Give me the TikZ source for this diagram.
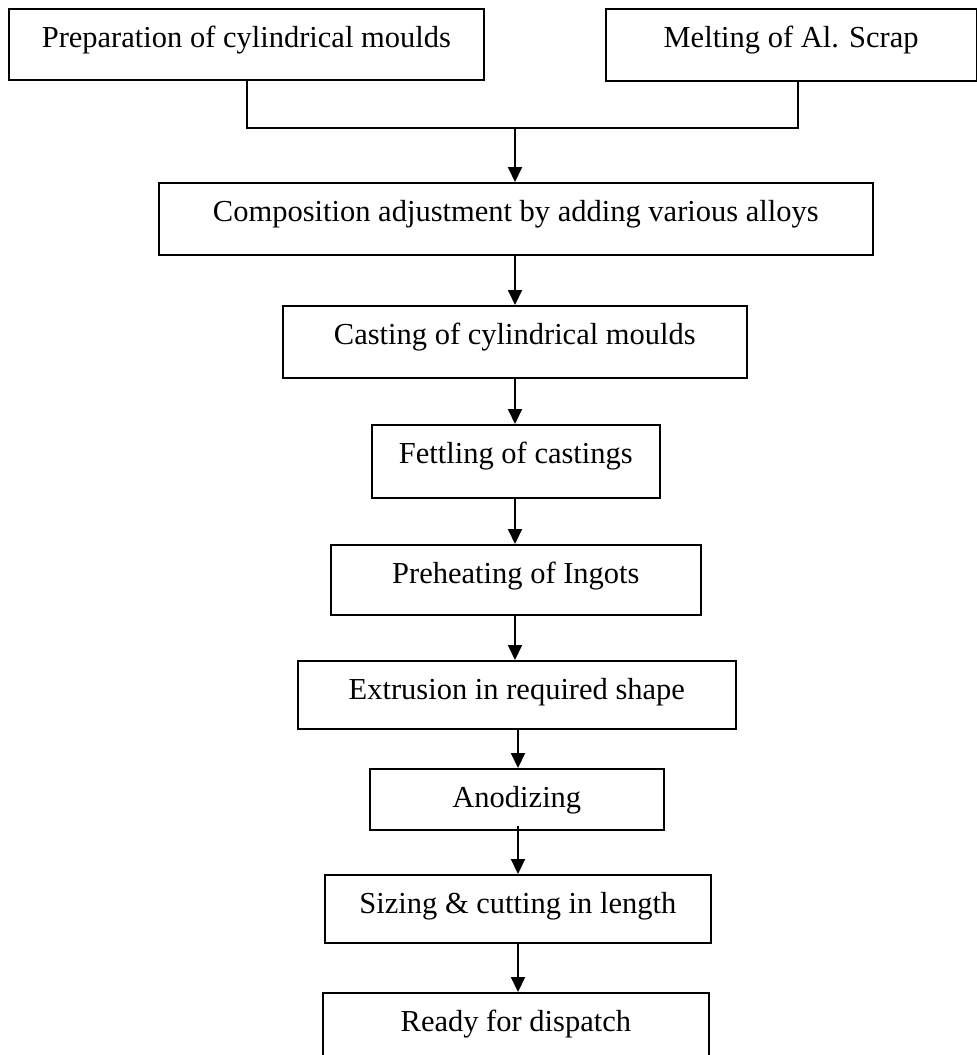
\documentclass[tikz,border=0pt]{standalone}
\usepackage{fontspec}
\setmainfont{Liberation Serif}
\usetikzlibrary{arrows.meta}
\tikzset{
  pbox/.style={draw, line width=1.7pt, inner sep=0pt, anchor=north west,
    text height=39pt, font=\fontsize{30.5}{36}\selectfont},
  link/.style={line width=1.7pt},
  arr/.style={line width=2pt, -{Triangle[width=14pt,length=15pt]}}
}
\begin{document}
\begin{tikzpicture}[x=1pt,y=-1pt]
\useasboundingbox (0,0) rectangle (977,1055);
\node[pbox, minimum width=475pt, text depth=32pt] (b1) at (8,8) {Preparation of cylindrical moulds};
\node[pbox, minimum width=370.5pt, text depth=33pt] (b2) at (605,8) {Melting of Al. Scrap};
\node[pbox, minimum width=714pt, text depth=33pt] (b3) at (158,182) {Composition adjustment by adding various alloys};
\node[pbox, minimum width=464pt, text depth=33pt] (b4) at (282,305) {Casting of cylindrical moulds};
\node[pbox, minimum width=288pt, text depth=34pt] (b5) at (371,424) {Fettling of castings};
\node[pbox, minimum width=370pt, text depth=31pt] (b6) at (330,544) {Preheating of Ingots};
\node[pbox, minimum width=438pt, text depth=29pt] (b7) at (297,660) {Extrusion in required shape};
\node[pbox, minimum width=294pt, text depth=22pt] (b8) at (369,768) {Anodizing};
\node[pbox, minimum width=386pt, text depth=29pt] (b9) at (324,874) {Sizing \& cutting in length};
\node[pbox, minimum width=386pt, text depth=44pt] (b10) at (322,992) {Ready for dispatch};
\coordinate (m1) at (247,128);
\coordinate (m2) at (798,128);
\coordinate (j) at (515,128);
\draw[link] (b1.south -| m1) -- (m1) -- (m2) -- (b2.south -| m2);
\draw[arr] (j) -- (j |- b3.north);
\draw[arr] (b3.south -| j) -- (j |- b4.north);
\draw[arr] (b4.south -| j) -- (j |- b5.north);
\draw[arr] (b5.south -| j) -- (j |- b6.north);
\draw[arr] (b6.south -| j) -- (j |- b7.north);
\coordinate (k) at (518,0);
\draw[arr] (b7.south -| k) -- (k |- b8.north);
\draw[arr] ([yshift=5pt]b8.south -| k) -- (k |- b9.north);
\draw[arr] (b9.south -| k) -- (k |- b10.north);
\end{tikzpicture}
\end{document}
